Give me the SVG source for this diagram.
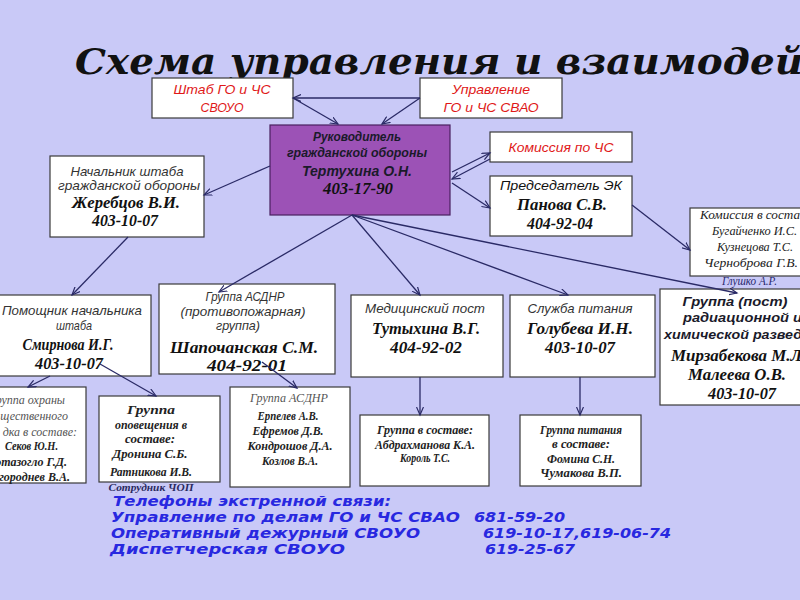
<svg xmlns="http://www.w3.org/2000/svg" width="800" height="600" viewBox="0 0 800 600">
<defs>
<marker id="ah" markerWidth="10" markerHeight="8" refX="8" refY="4" orient="auto" markerUnits="userSpaceOnUse">
<path d="M0,0.5 L8,4 L0,7.5" fill="none" stroke="#2a2a66" stroke-width="1.2"/>
</marker>
<style>
.box{fill:#ffffff;stroke:#3a3a3a;stroke-width:1.2}
.boss{fill:#9c52b6;stroke:#4a2060;stroke-width:1.2}
.red{font-family:"Liberation Sans Narrow","Liberation Sans",Arial,sans-serif;font-style:italic;font-size:13px;fill:#e01818;text-anchor:middle}
.lbl{font-family:"Liberation Sans",Arial,sans-serif;font-style:italic;font-size:13px;fill:#333;text-anchor:middle}
.lblb{font-family:"Liberation Sans",Arial,sans-serif;font-style:italic;font-weight:bold;font-size:13px;fill:#1a1a2a;text-anchor:middle}
.nm{font-family:"Liberation Serif","Times New Roman",serif;font-style:italic;font-weight:bold;font-size:17px;fill:#111;text-anchor:middle}
.sm{font-family:"Liberation Serif","Times New Roman",serif;font-style:italic;font-size:12px;fill:#555;text-anchor:middle}
.smb{font-family:"Liberation Serif","Times New Roman",serif;font-style:italic;font-weight:bold;font-size:12px;fill:#222;text-anchor:middle}
.st{text-anchor:start}
.en{text-anchor:end}
.blue{font-family:"DejaVu Sans",Verdana,sans-serif;font-style:oblique;font-weight:bold;font-size:14px;fill:#2828e0}
.conn path{fill:none;stroke:#2a2a66;stroke-width:1.3;marker-end:url(#ah)}
</style>
</defs>
<rect x="0" y="0" width="800" height="600" fill="#c9c9f7"/>

<text x="75" y="74" textLength="728" lengthAdjust="spacingAndGlyphs" font-family="'DejaVu Serif',serif" font-style="italic" font-weight="bold" font-size="35" fill="#111">Схема управления и взаимодей</text>

<g id="shtab">
<rect class="box" x="152" y="78" width="141" height="40"/>
<text class="red" x="222" y="94" textLength="97" lengthAdjust="spacingAndGlyphs">Штаб ГО и ЧС</text>
<text class="red" x="222" y="112" textLength="43" lengthAdjust="spacingAndGlyphs">СВОУО</text>
</g>

<g id="upravlenie">
<rect class="box" x="420" y="78" width="142" height="40"/>
<text class="red" x="491" y="94" textLength="78" lengthAdjust="spacingAndGlyphs">Управление</text>
<text class="red" x="491" y="112" textLength="95" lengthAdjust="spacingAndGlyphs">ГО и ЧС СВАО</text>
</g>

<g id="rukovoditel">
<rect class="boss" x="270" y="125" width="180" height="90"/>
<text class="lblb" x="357" y="141" textLength="88" lengthAdjust="spacingAndGlyphs">Руководитель</text>
<text class="lblb" x="357" y="157" textLength="140" lengthAdjust="spacingAndGlyphs">гражданской обороны</text>
<text class="lblb" x="357" y="176" style="font-size:15px" textLength="110" lengthAdjust="spacingAndGlyphs">Тертухина О.Н.</text>
<text class="nm" x="358" y="194" textLength="70" lengthAdjust="spacingAndGlyphs">403-17-90</text>
</g>

<g id="komissia-chs">
<rect class="box" x="490" y="132" width="142" height="30"/>
<text class="red" x="561" y="152" textLength="105" lengthAdjust="spacingAndGlyphs">Комиссия по ЧС</text>
</g>

<g id="predsedatel">
<rect class="box" x="490" y="176" width="142" height="60"/>
<text class="lbl" x="561" y="190" style="fill:#111" textLength="122" lengthAdjust="spacingAndGlyphs">Председатель ЭК</text>
<text class="nm" x="562" y="210" textLength="90" lengthAdjust="spacingAndGlyphs">Панова С.В.</text>
<text class="nm" x="560" y="229" textLength="66" lengthAdjust="spacingAndGlyphs">404-92-04</text>
</g>

<g id="nachalnik">
<rect class="box" x="50" y="156" width="154" height="81"/>
<text class="lbl" x="127" y="176" textLength="113" lengthAdjust="spacingAndGlyphs">Начальник штаба</text>
<text class="lbl" x="129" y="190" textLength="142" lengthAdjust="spacingAndGlyphs">гражданской обороны</text>
<text class="nm" x="126" y="208" textLength="108" lengthAdjust="spacingAndGlyphs">Жеребцов В.И.</text>
<text class="nm" x="125" y="226" textLength="66" lengthAdjust="spacingAndGlyphs">403-10-07</text>
</g>

<g id="komissia-sostav">
<rect class="box" x="690" y="208" width="120" height="68"/>
<text class="sm st" x="700" y="219" style="fill:#222" textLength="100" lengthAdjust="spacingAndGlyphs">Комиссия в соста</text>
<text class="sm st" x="712" y="235" style="fill:#222" textLength="85" lengthAdjust="spacingAndGlyphs">Бугайченко И.С.</text>
<text class="sm st" x="717" y="251" style="fill:#222" textLength="76" lengthAdjust="spacingAndGlyphs">Кузнецова Т.С.</text>
<text class="sm st" x="704" y="267" style="fill:#222" textLength="94" lengthAdjust="spacingAndGlyphs">Черноброва Г.В.</text>
<text class="sm st" x="722" y="285" style="fill:#2a2a70" textLength="55" lengthAdjust="spacingAndGlyphs">Глушко А.Р.</text>
</g>

<g id="pomoshnik">
<rect class="box" x="-5" y="295" width="156" height="81"/>
<text class="lbl" x="72" y="315" textLength="140" lengthAdjust="spacingAndGlyphs">Помощник начальника</text>
<text class="lbl" x="74" y="330" textLength="36" lengthAdjust="spacingAndGlyphs">штаба</text>
<text class="nm" x="68" y="350" textLength="91" lengthAdjust="spacingAndGlyphs">Смирнова И.Г.</text>
<text class="nm" x="69" y="369" textLength="68" lengthAdjust="spacingAndGlyphs">403-10-07</text>
</g>

<g id="asdnr">
<rect class="box" x="159" y="284" width="176" height="90"/>
<text class="lbl" x="245" y="301" textLength="79" lengthAdjust="spacingAndGlyphs">Группа АСДНР</text>
<text class="lbl" x="243" y="316" textLength="125" lengthAdjust="spacingAndGlyphs">(противопожарная)</text>
<text class="lbl" x="238" y="330" textLength="44" lengthAdjust="spacingAndGlyphs">группа)</text>
<text class="nm" x="244" y="353" textLength="148" lengthAdjust="spacingAndGlyphs">Шапочанская С.М.</text>
<text class="nm" x="247" y="371" textLength="80" lengthAdjust="spacingAndGlyphs">404-92-01</text>
</g>

<g id="medpost">
<rect class="box" x="351" y="295" width="152" height="82"/>
<text class="lbl" x="425" y="313" textLength="120" lengthAdjust="spacingAndGlyphs">Медицинский пост</text>
<text class="nm" x="426" y="334" textLength="108" lengthAdjust="spacingAndGlyphs">Тутыхина В.Г.</text>
<text class="nm" x="426" y="353" textLength="72" lengthAdjust="spacingAndGlyphs">404-92-02</text>
</g>

<g id="pitanie">
<rect class="box" x="510" y="295" width="145" height="82"/>
<text class="lbl" x="580" y="313" textLength="105" lengthAdjust="spacingAndGlyphs">Служба питания</text>
<text class="nm" x="580" y="334" textLength="106" lengthAdjust="spacingAndGlyphs">Голубева И.Н.</text>
<text class="nm" x="580" y="353" textLength="70" lengthAdjust="spacingAndGlyphs">403-10-07</text>
</g>

<g id="rhr">
<rect class="box" x="660" y="289" width="150" height="116"/>
<text class="lblb" x="735" y="306" textLength="105" lengthAdjust="spacingAndGlyphs">Группа (пост)</text>
<text class="lblb st" x="683" y="322" textLength="119" lengthAdjust="spacingAndGlyphs">радиационной и</text>
<text class="lblb st" x="664" y="339" textLength="138" lengthAdjust="spacingAndGlyphs">химической развед</text>
<text class="nm st" x="671" y="361" textLength="131" lengthAdjust="spacingAndGlyphs">Мирзабекова М.Л</text>
<text class="nm" x="737" y="380" textLength="98" lengthAdjust="spacingAndGlyphs">Малеева О.В.</text>
<text class="nm" x="742" y="399" textLength="68" lengthAdjust="spacingAndGlyphs">403-10-07</text>
</g>

<g id="ohrana">
<rect class="box" x="-20" y="387" width="106" height="96"/>
<text class="sm en" x="65" y="404">руппа охраны</text>
<text class="sm en" x="68" y="420">щественного</text>
<text class="sm en" x="77" y="436">дка в составе:</text>
<text class="smb st" x="5" y="450" textLength="53" lengthAdjust="spacingAndGlyphs">Секов Ю.Н.</text>
<text class="smb en" x="67" y="466">отазогло Г.Д.</text>
<text class="smb en" x="70" y="481">городнев В.А.</text>
</g>

<g id="opoveshenie">
<rect class="box" x="99" y="396" width="121" height="86"/>
<text class="smb" x="151" y="414" textLength="48" lengthAdjust="spacingAndGlyphs">Группа</text>
<text class="smb" x="151" y="429" textLength="72" lengthAdjust="spacingAndGlyphs">оповещения в</text>
<text class="smb" x="150" y="443" textLength="50" lengthAdjust="spacingAndGlyphs">составе:</text>
<text class="smb" x="150" y="458" textLength="75" lengthAdjust="spacingAndGlyphs">Дронина С.Б.</text>
<text class="smb" x="151" y="476" textLength="82" lengthAdjust="spacingAndGlyphs">Ратникова И.В.</text>
<text class="smb" x="151" y="491" style="fill:#2a2a60;font-size:11px" textLength="85" lengthAdjust="spacingAndGlyphs">Сотрудник ЧОП</text>
</g>

<g id="asdnr-sostav">
<rect class="box" x="230" y="387" width="120" height="100"/>
<text class="sm" x="289" y="402" textLength="78" lengthAdjust="spacingAndGlyphs">Группа АСДНР</text>
<text class="smb" x="288" y="420" textLength="61" lengthAdjust="spacingAndGlyphs">Ерпелев А.В.</text>
<text class="smb" x="288" y="435" textLength="71" lengthAdjust="spacingAndGlyphs">Ефремов Д.В.</text>
<text class="smb" x="290" y="450" textLength="85" lengthAdjust="spacingAndGlyphs">Кондрошов Д.А.</text>
<text class="smb" x="290" y="465" textLength="56" lengthAdjust="spacingAndGlyphs">Козлов В.А.</text>
</g>

<g id="med-sostav">
<rect class="box" x="360" y="415" width="129" height="71"/>
<text class="smb" x="425" y="434" textLength="96" lengthAdjust="spacingAndGlyphs">Группа в составе:</text>
<text class="smb" x="425" y="449" textLength="100" lengthAdjust="spacingAndGlyphs">Абдрахманова К.А.</text>
<text class="smb" x="425" y="462" textLength="50" lengthAdjust="spacingAndGlyphs">Король Т.С.</text>
</g>

<g id="pitanie-sostav">
<rect class="box" x="520" y="415" width="121" height="71"/>
<text class="smb" x="581" y="434" textLength="82" lengthAdjust="spacingAndGlyphs">Группа питания</text>
<text class="smb" x="581" y="448" textLength="58" lengthAdjust="spacingAndGlyphs">в составе:</text>
<text class="smb" x="581" y="463" textLength="68" lengthAdjust="spacingAndGlyphs">Фомина С.Н.</text>
<text class="smb" x="581" y="477" textLength="82" lengthAdjust="spacingAndGlyphs">Чумакова В.П.</text>
</g>

<g class="conn" id="connectors">
<path d="M420,98 L293,98"/>
<path d="M293,98 L338,124"/>
<path d="M420,98 L382,124"/>
<path d="M270,166 L204,195"/>
<path d="M452,172 L490,153"/>
<path d="M490,159 L452,179"/>
<path d="M452,183 L490,208"/>
<path d="M632,205 L690,250"/>
<path d="M128,237 L72,295"/>
<path d="M352,215 L219,292"/>
<path d="M352,215 L420,295"/>
<path d="M352,215 L568,295"/>
<path d="M352,215 L737,293"/>
<path d="M50,376 L28,387"/>
<path d="M100,364 L156,396"/>
<path d="M262,362 L297,388"/>
<path d="M420,377 L420,415"/>
<path d="M580,377 L580,415"/>
</g>

<g id="phones">
<text class="blue" x="113" y="506" textLength="278" lengthAdjust="spacingAndGlyphs">Телефоны экстренной связи:</text>
<text class="blue" x="111" y="522" textLength="349" lengthAdjust="spacingAndGlyphs">Управление по делам ГО и ЧС СВАО</text>
<text class="blue" x="474" y="522" textLength="91" lengthAdjust="spacingAndGlyphs">681-59-20</text>
<text class="blue" x="111" y="538" textLength="309" lengthAdjust="spacingAndGlyphs">Оперативный дежурный СВОУО</text>
<text class="blue" x="483" y="538" textLength="188" lengthAdjust="spacingAndGlyphs">619-10-17,619-06-74</text>
<text class="blue" x="110" y="554" textLength="235" lengthAdjust="spacingAndGlyphs">Диспетчерская СВОУО</text>
<text class="blue" x="485" y="554" textLength="90" lengthAdjust="spacingAndGlyphs">619-25-67</text>
</g>
</svg>
